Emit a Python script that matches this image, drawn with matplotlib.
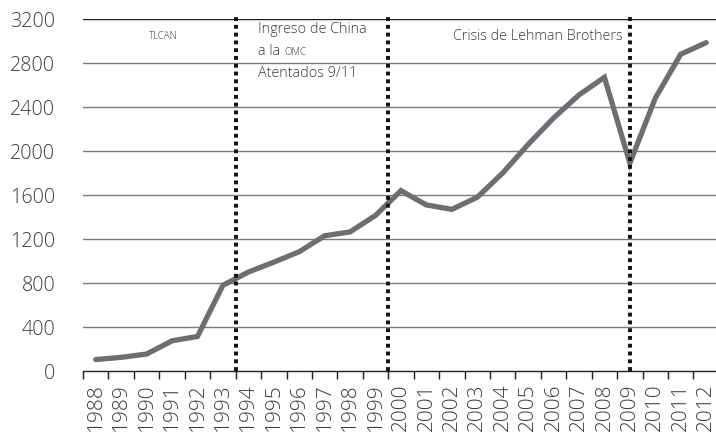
import numpy as np
import matplotlib
matplotlib.use("Agg")
import matplotlib.pyplot as plt
from matplotlib.ticker import FixedLocator

# Data
years = [str(y) for y in range(1988, 2013)]
values = [105, 125, 155, 275, 315, 780, 900, 990, 1085, 1230, 1265, 1415,
          1640, 1510, 1470, 1580, 1800, 2060, 2300, 2510, 2670, 1890, 2480,
          2880, 2985]
y_ticks = [0, 400, 800, 1200, 1600, 2000, 2400, 2800, 3200]
event_positions = [5.5, 11.5, 21]  # between 1993/1994, 1999/2000, at 2009

plt.rcParams['font.family'] = ['Open Sans', 'DejaVu Sans']
plt.rcParams['font.weight'] = 'light'
text_color = "#3a3a3a"

fig = plt.figure(figsize=(7.16, 4.32), dpi=100)
ax = fig.add_axes([0.116, 0.141, 0.888, 0.815])

x = np.arange(len(years))

# horizontal grid
for yt in y_ticks[1:]:
    ax.axhline(yt, color="#1e1e1e" if yt == y_ticks[-1] else "#7a7a7a",
               linewidth=1.0, zorder=1)

ax.plot(x, values, color="#6d6e71", linewidth=3.8, solid_joinstyle="miter",
        solid_capstyle="round", zorder=3)

for xp in event_positions:
    ax.plot([xp, xp], [0, 3230], color="#111111", linewidth=2.8,
            linestyle=(0, (1, 1.0)), zorder=4, clip_on=False)

ax.set_xlim(-0.5, len(years) - 0.5)
ax.set_ylim(0, 3200)

for s in ["left", "right", "top"]:
    ax.spines[s].set_visible(False)
ax.spines["bottom"].set_color("#1e1e1e")
ax.spines["bottom"].set_linewidth(1.0)

ax.set_yticks(y_ticks)
ax.set_yticklabels([str(v) for v in y_ticks])
ax.tick_params(axis="y", length=0, pad=20, labelsize=14.2, labelcolor=text_color)

ax.set_xticks(x)
ax.set_xticklabels(years, rotation=90, va="top", ha="center")
ax.tick_params(axis="x", which="major", length=0, pad=8.6, labelsize=15,
               labelcolor=text_color)
ax.xaxis.set_minor_locator(FixedLocator(np.arange(-0.5, len(years), 1.0)))
ax.tick_params(axis="x", which="minor", length=6, width=1.0, color="#1e1e1e",
               direction="out")

# annotations (small caps imitated with a smaller size)
ax.text(2.61, 3015, "TLCAN", fontsize=7, color=text_color, ha="center",
        va="baseline")
ax.text(6.39, 3073, "Ingreso de China", fontsize=10.4, color=text_color,
        va="baseline")
t_ala = ax.text(6.39, 2873, "a la ", fontsize=10.4, color=text_color,
                va="baseline")
ax.annotate("OMC", xy=(1, 0), xycoords=t_ala, xytext=(0, 0.9),
            textcoords="offset points", fontsize=7, color=text_color,
            va="bottom", ha="left")
ax.text(6.39, 2675, "Atentados 9/11", fontsize=10.4, color=text_color,
        va="baseline")
ax.text(20.7, 3009, "Crisis de Lehman Brothers", fontsize=10.3,
        color=text_color, ha="right", va="baseline")

fig.savefig("out.png", dpi=100)
